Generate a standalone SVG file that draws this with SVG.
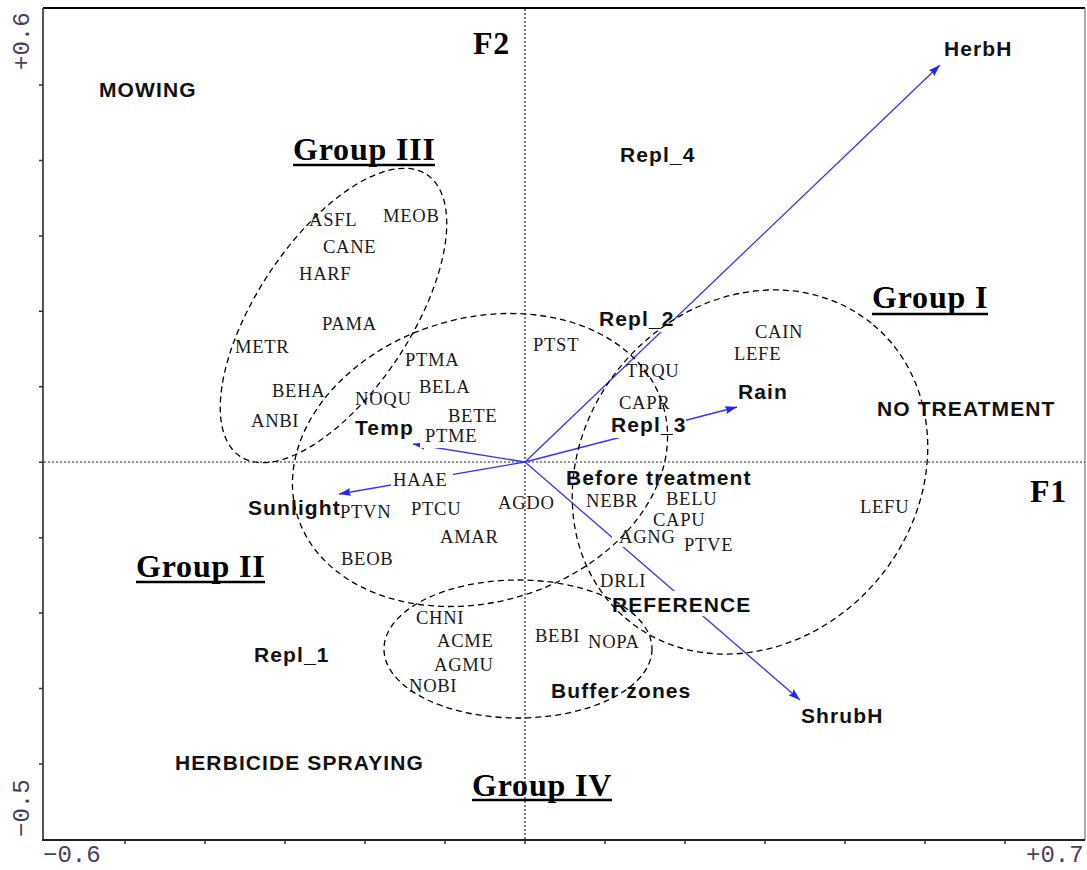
<svg xmlns="http://www.w3.org/2000/svg" width="1087" height="870" viewBox="0 0 1087 870">
<defs>
<style>
.sp{font-family:"Liberation Serif","Times New Roman",serif;font-size:18.6px;letter-spacing:0.7px;fill:#1a1a1a}
.var{font-family:"Liberation Sans",Arial,sans-serif;font-weight:bold;font-size:21px;letter-spacing:1.1px;fill:#111}
.grp{font-family:"Liberation Serif","Times New Roman",serif;font-weight:bold;font-size:32px;letter-spacing:0.8px;fill:#000}
.tick{font-family:"Liberation Mono","Courier New",monospace;font-size:24px;fill:#4a4060}
.ul{stroke:#000;stroke-width:2.5}
.ell{fill:none;stroke:#000;stroke-width:1.3;stroke-dasharray:6,4}
.arr{stroke:#3333ff;stroke-width:1.3;fill:none;marker-end:url(#ah)}
.dot{stroke:#222;stroke-width:1.2;stroke-dasharray:2,2}
.bg{fill:#fff}
</style>
<marker id="ah" viewBox="0 0 12 8" refX="12" refY="4" markerWidth="12" markerHeight="8" markerUnits="userSpaceOnUse" orient="auto">
<path d="M0,0 L12,4 L0,8 L2,4 z" fill="#2222ff"/>
</marker>
</defs>
<rect width="1087" height="870" fill="#fff"/>

<g id="frame">
<line x1="43" y1="8" x2="1085" y2="8" stroke="#000" stroke-width="2"/>
<line x1="1085" y1="8" x2="1085" y2="840" stroke="#777" stroke-width="1.2"/>
<line x1="43" y1="8" x2="43" y2="841" stroke="#555" stroke-width="2"/>
<line x1="42" y1="840" x2="1085" y2="840" stroke="#222" stroke-width="2"/>
<path d="M39,85H43M39,160.4H43M39,235.9H43M39,311.3H43M39,386.8H43M39,462.2H43M39,537.7H43M39,613.1H43M39,688.6H43M39,764H43" stroke="#333" stroke-width="1.5"/>
<path d="M125,840V844M205,840V844M285,840V844M365,840V844M445,840V844M525,840V844M605,840V844M685,840V844M765,840V844M845,840V844M925,840V844M1005,840V844" stroke="#333" stroke-width="1.5"/>
<text class="tick" transform="translate(29,70) rotate(-90)">+0.6</text>
<text class="tick" transform="translate(29,837) rotate(-90)">−0.5</text>
<text class="tick" x="43" y="862">−0.6</text>
<text class="tick" x="1026" y="862">+0.7</text>
<line class="dot" x1="525" y1="9" x2="525" y2="840"/>
<line class="dot" x1="44" y1="462" x2="1085" y2="462"/>
<text class="grp" x="473" y="54">F2</text>
<text class="grp" x="1030" y="502">F1</text>
</g>

<g id="connectors">
<line class="arr" x1="525" y1="462" x2="940" y2="65"/>
<line class="arr" x1="525" y1="462" x2="800" y2="700"/>
<line class="arr" x1="525" y1="462" x2="737" y2="407"/>
<line class="arr" x1="525" y1="462" x2="413" y2="444"/>
<line class="arr" x1="525" y1="462" x2="339" y2="494"/>
</g>

<g id="var-HerbH"><text class="var" x="944" y="56">HerbH</text></g>
<g id="var-ShrubH"><text class="var" x="801" y="723">ShrubH</text></g>
<g id="var-Rain"><text class="var" x="738" y="399">Rain</text></g>
<g id="var-Temp"><text class="var" x="355" y="435">Temp</text></g>
<g id="var-Sunlight"><text class="var" x="248" y="515">Sunlight</text></g>

<g id="site-MOWING"><text class="var" x="99" y="97">MOWING</text></g>
<g id="site-Repl_4"><text class="var" x="620" y="162">Repl_4</text></g>
<g id="site-Repl_2"><rect class="bg" x="597" y="308" width="76" height="24"/><text class="var" x="599" y="326">Repl_2</text></g>
<g id="site-Repl_3"><rect class="bg" x="609" y="414" width="77" height="24"/><text class="var" x="611" y="432">Repl_3</text></g>
<g id="site-NOTREATMENT"><text class="var" x="877" y="416">NO TREATMENT</text></g>
<g id="site-Before"><text class="var" x="566" y="485">Before treatment</text></g>
<g id="site-REFERENCE"><rect class="bg" x="610" y="591" width="141" height="25"/><text class="var" x="612" y="612">REFERENCE</text></g>
<g id="site-Repl_1"><text class="var" x="254" y="662">Repl_1</text></g>
<g id="site-Buffer"><text class="var" x="551" y="698">Buffer zones</text></g>
<g id="site-HERBICIDE"><text class="var" x="175" y="770">HERBICIDE SPRAYING</text></g>

<g id="sp-ASFL"><text class="sp" x="309" y="226">ASFL</text></g>
<g id="sp-MEOB"><text class="sp" x="383" y="222">MEOB</text></g>
<g id="sp-CANE"><text class="sp" x="323" y="253">CANE</text></g>
<g id="sp-HARF"><text class="sp" x="299" y="280">HARF</text></g>
<g id="sp-PAMA"><text class="sp" x="322" y="330">PAMA</text></g>
<g id="sp-METR"><text class="sp" x="235" y="353">METR</text></g>
<g id="sp-BEHA"><text class="sp" x="272" y="397">BEHA</text></g>
<g id="sp-ANBI"><text class="sp" x="251" y="427">ANBI</text></g>
<g id="sp-NOQU"><text class="sp" x="355" y="405">NOQU</text></g>
<g id="sp-PTMA"><text class="sp" x="405" y="366">PTMA</text></g>
<g id="sp-BELA"><text class="sp" x="419" y="393">BELA</text></g>
<g id="sp-BETE"><text class="sp" x="448" y="422">BETE</text></g>
<g id="sp-PTME"><rect class="bg" x="420" y="427" width="60" height="21"/><text class="sp" x="425" y="442">PTME</text></g>
<g id="sp-PTST"><text class="sp" x="533" y="351">PTST</text></g>
<g id="sp-TRQU"><text class="sp" x="626" y="377">TRQU</text></g>
<g id="sp-CAPR"><text class="sp" x="619" y="409">CAPR</text></g>
<g id="sp-CAIN"><text class="sp" x="755" y="338">CAIN</text></g>
<g id="sp-LEFE"><text class="sp" x="734" y="360">LEFE</text></g>
<g id="sp-HAAE"><rect class="bg" x="391" y="469" width="62" height="21"/><text class="sp" x="393" y="486">HAAE</text></g>
<g id="sp-PTVN"><text class="sp" x="340" y="518">PTVN</text></g>
<g id="sp-PTCU"><text class="sp" x="411" y="515">PTCU</text></g>
<g id="sp-AGDO"><text class="sp" x="498" y="509">AGDO</text></g>
<g id="sp-AMAR"><text class="sp" x="440" y="543">AMAR</text></g>
<g id="sp-BEOB"><text class="sp" x="341" y="565">BEOB</text></g>
<g id="sp-NEBR"><text class="sp" x="586" y="507">NEBR</text></g>
<g id="sp-BELU"><text class="sp" x="666" y="505">BELU</text></g>
<g id="sp-CAPU"><text class="sp" x="653" y="526">CAPU</text></g>
<g id="sp-AGNG"><rect class="bg" x="612" y="532" width="46" height="15"/><text class="sp" x="619" y="543">AGNG</text></g>
<g id="sp-PTVE"><text class="sp" x="684" y="551">PTVE</text></g>
<g id="sp-LEFU"><text class="sp" x="860" y="513">LEFU</text></g>
<g id="sp-DRLI"><text class="sp" x="600" y="587">DRLI</text></g>
<g id="sp-CHNI"><text class="sp" x="416" y="624">CHNI</text></g>
<g id="sp-ACME"><text class="sp" x="437" y="647">ACME</text></g>
<g id="sp-AGMU"><text class="sp" x="434" y="671">AGMU</text></g>
<g id="sp-NOBI"><text class="sp" x="409" y="692">NOBI</text></g>
<g id="sp-BEBI"><text class="sp" x="535" y="642">BEBI</text></g>
<g id="sp-NOPA"><text class="sp" x="588" y="648">NOPA</text></g>

<g id="group-I">
<ellipse class="ell" cx="750" cy="472" rx="192" ry="167" transform="rotate(-50 750 472)"/>
<text class="grp" x="872" y="308">Group I</text>
<line class="ul" x1="872" y1="314" x2="988" y2="314"/>
</g>
<g id="group-II">
<ellipse class="ell" cx="480" cy="460" rx="191" ry="142" transform="rotate(-16.4 480 460)"/>
<text class="grp" x="136" y="577">Group II</text>
<line class="ul" x1="136" y1="582" x2="265" y2="582"/>
</g>
<g id="group-III">
<ellipse class="ell" cx="333.5" cy="315.5" rx="169" ry="77" transform="rotate(-56.5 333.5 315.5)"/>
<text class="grp" x="293" y="160">Group III</text>
<line class="ul" x1="293" y1="165" x2="435" y2="165"/>
</g>
<g id="group-IV">
<ellipse class="ell" cx="518" cy="649" rx="134" ry="69"/>
<text class="grp" x="472" y="796">Group IV</text>
<line class="ul" x1="472" y1="800" x2="612" y2="800"/>
</g>
</svg>
